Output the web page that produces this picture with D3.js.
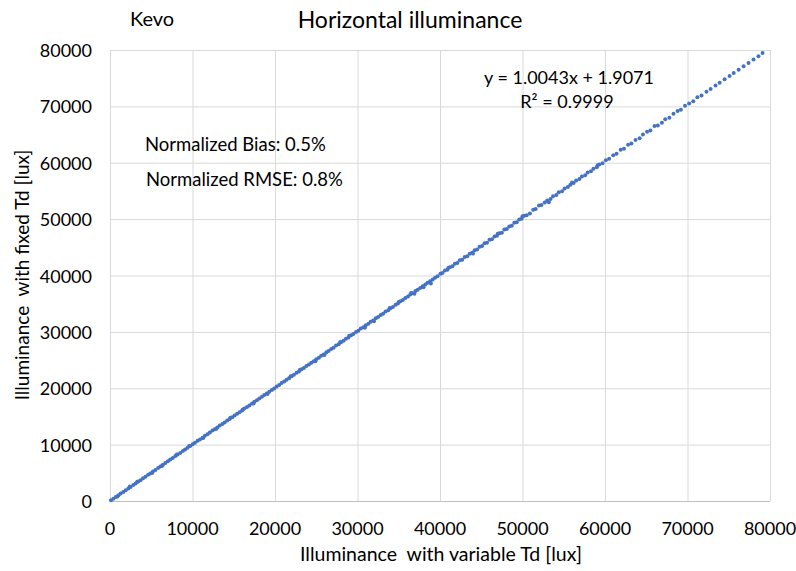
<!DOCTYPE html>
<html>
<head>
<meta charset="utf-8">
<script src="https://cdn.jsdelivr.net/npm/d3@7"></script>
<style>
  body { margin: 0; background: #fff; }
  text { font-family: Lato, "Open Sans", sans-serif; fill: #000; }
</style>
</head>
<body>
<script>
// tick values for both axes
var ticks = [0, 10000, 20000, 30000, 40000, 50000, 60000, 70000, 80000];

// scatter points [variable Td, fixed Td]
var lowRange = [
  [120,130],[410,400],[700,715],[1020,1010],[1290,1310],[1610,1600],[1900,1925],[2230,2235],
  [2510,2500],[2820,2850],[3100,3095],[3420,3450],[3700,3690],[4010,4050],[4300,4300],[4620,4660],
  [4890,4880],[5210,5250],[5500,5510],[5830,5850],[6100,6130],[6420,6420],[6710,6760],[7020,7040],
  [7300,7340],[7610,7620],[7920,7990],[8200,8230],[8510,8530],[8830,8880],[9100,9130],[9400,9460],
  [9720,9740],[10010,10060],[10300,10330],[10620,10690],[10900,10930],[11220,11240],[11500,11580],
  [11810,11850],[12100,12130],[12420,12500],[12700,12740],[13010,13050],[13300,13380],[13620,13660],
  [13900,13930],[14210,14300],[14500,14560],[14820,14850],[15100,15180],[15410,15460],[15700,15760],
  [16020,16060],[16300,16390],[16610,16660],[16900,16960],[17220,17280],[17500,17590],[17810,17860],
  [18100,18170],[18420,18480],[18700,18800],[19010,19070],[19300,19400],[19620,19690],[19900,19960],
  [2400,2550],[5100,4980],[8100,8260],[11300,11180],[14600,14760],[17400,17300],
  [900,780],[3300,3420],[6300,6200],[9600,9750],[12900,12800],[16100,16250],[19100,18980]
];
var midRange = [
  [20200,20310],[20510,20560],[20800,20920],[21120,21190],[21400,21520],[21700,21760],[22010,22140],
  [22300,22380],[22620,22760],[22900,22980],[23210,23350],[23500,23570],[23800,23950],[24120,24200],
  [24400,24540],[24710,24790],[25000,25160],[25320,25390],[25600,25750],[25900,26000],[26230,26390],
  [26500,26600],[26810,26960],[27100,27190],[27400,27580],[27720,27810],[28000,28150],[28310,28420],
  [28600,28780],[28900,29010],[29230,29380],[29500,29610],[29820,30000],[30100,30200],[30400,30580],
  [30710,30830],[31000,31190],[31330,31430],[31600,31800],[31900,32020],[32220,32400],[32500,32620],
  [32810,33000],[33100,33220],[33400,33600],[33720,33830],[34000,34200],[34300,34420],[34620,34830],
  [34900,35030],[35210,35420],[35500,35640],[35800,36020],[36120,36260],[36400,36620],[36500,36900],
  [36700,36840],[37020,37230],[37300,37460],[37600,37790],[37900,38090],[38220,38400],[38500,38700],
  [38800,38980],[38900,38600],[39120,39300],[39400,39600],[39700,39880],
  [21900,22150],[24900,24800],[27900,28200],[30900,30750],[33900,34250],[36900,36750],
  [23000,23250],[26000,25900],[29000,29300],[32000,31900],[35000,35300],[38000,37900]
];
var upperRange = [
  [40050,40300],[40300,40430],[40600,40880],[40900,41020],[41200,41450],[41500,41620],[41800,42080],
  [42100,42230],[42400,42700],[42700,42800],[43000,43300],[43300,43420],[43600,43880],[43900,44050],
  [44200,44500],[44500,44600],[44800,45100],[45100,45250],[45400,45700],[45700,45800],[46000,46350],
  [46300,46420],[46600,46900],[46900,47050],[47200,47500],[47500,47600],[47800,48150],[48100,48250],
  [48400,48700],[48700,48820],[49000,49350],[49300,49450],[49600,49950],[49900,50050],[50200,50600],
  [50500,50700],[50900,51000],[51300,51650],[51600,51800],[52000,52400],[52300,52500],[52700,52950],
  [53000,53300],[53400,53550],[53700,54050],[54100,54300],[54400,54750],[54800,54950],[55100,55450],
  [55500,55700],[55800,56100],[56200,56400],[56500,56850],[56900,57100],[57200,57550],[57600,57800],
  [57900,58250],[58300,58500],[58600,58950],[59000,59200],[59300,59700],[59700,59900],
  [41000,41350],[44000,43900],[47000,47400],[50000,50500],[53200,53000],[56000,56500],[59100,59550]
];
var highRange = [
  [60100,60450],[60500,60700],[61000,61350],[61400,61600],[61900,62300],[62300,62500],[62800,63200],
  [63200,63400],[63700,64050],[64200,64350],[64600,65000],[65100,65500],[65500,65700],[66000,66500],
  [66400,66600],[66900,67100],[67300,67700],[67800,68000],[68300,68700],[68800,69200],[69200,69400],
  [69700,70100],[70200,70500],[70700,70900],[71200,71600],[71700,71950],[72300,72600],[72800,73100],
  [73400,73700],[73900,74200],[74500,74800],[75100,75400],[75600,75900],[76200,76500],[76800,77100],
  [77400,77700],[78000,78300],[78600,78900],[79100,79450]
];

var width = 796, height = 571;
var margin = {left: 110, right: 26, top: 50, bottom: 70};

var svg = d3.select('body').append('svg')
  .attr('width', width)
  .attr('height', height);

var x = d3.scaleLinear().domain([0, 80000]).range([margin.left, width - margin.right]);
var y = d3.scaleLinear().domain([0, 80000]).range([height - margin.bottom, margin.top]);

// gridlines
svg.append('g').selectAll('line.v').data(ticks).enter().append('line')
  .attr('x1', function(d) { return x(d) + 0.5; })
  .attr('x2', function(d) { return x(d) + 0.5; })
  .attr('y1', y(0)).attr('y2', y(80000))
  .attr('stroke', '#d9d9d9');
svg.append('g').selectAll('line.h').data(ticks).enter().append('line')
  .attr('y1', function(d) { return y(d) + 0.5; })
  .attr('y2', function(d) { return y(d) + 0.5; })
  .attr('x1', x(0)).attr('x2', x(80000))
  .attr('stroke', function(d) { return d === 0 ? '#bfbfbf' : '#d9d9d9'; });

// tick labels
svg.append('g').selectAll('text').data(ticks).enter().append('text')
  .attr('x', margin.left - 18)
  .attr('y', function(d) { return y(d) + 7; })
  .attr('text-anchor', 'end')
  .style('font-size', '18px')
  .text(function(d) { return d; });
svg.append('g').selectAll('text').data(ticks).enter().append('text')
  .attr('x', function(d) { return x(d); })
  .attr('y', y(0) + 34)
  .attr('text-anchor', 'middle')
  .style('font-size', '18px')
  .text(function(d) { return d; });

// points
var points = lowRange.concat(midRange, upperRange, highRange);
svg.append('g').selectAll('circle').data(points).enter().append('circle')
  .attr('cx', function(d) { return x(d[0]); })
  .attr('cy', function(d) { return y(d[1]); })
  .attr('r', 2)
  .attr('fill', '#4472c4');

// titles and annotations
svg.append('text').attr('x', 410).attr('y', 28).attr('text-anchor', 'middle')
  .style('font-size', '23px').text('Horizontal illuminance');
svg.append('text').attr('x', 130).attr('y', 26)
  .style('font-size', '20px').text('Kevo');
svg.append('text').attr('x', 441).attr('y', 561).attr('text-anchor', 'middle')
  .style('font-size', '19.5px').style('white-space', 'pre').text('Illuminance  with variable Td [lux]');
svg.append('text').attr('transform', 'translate(29,275) rotate(-90)').attr('text-anchor', 'middle')
  .style('font-size', '19px').style('white-space', 'pre').text('Illuminance  with fixed Td [lux]');
svg.append('text').attr('x', 569).attr('y', 84).attr('text-anchor', 'middle')
  .style('font-size', '18px').text('y = 1.0043x + 1.9071');
svg.append('text').attr('x', 567).attr('y', 108).attr('text-anchor', 'middle')
  .style('font-size', '18px').text('R² = 0.9999');
svg.append('text').attr('x', 145).attr('y', 151)
  .style('font-size', '18.5px').text('Normalized Bias: 0.5%');
svg.append('text').attr('x', 146).attr('y', 186)
  .style('font-size', '18.5px').text('Normalized RMSE: 0.8%');
</script>
</body>
</html>
